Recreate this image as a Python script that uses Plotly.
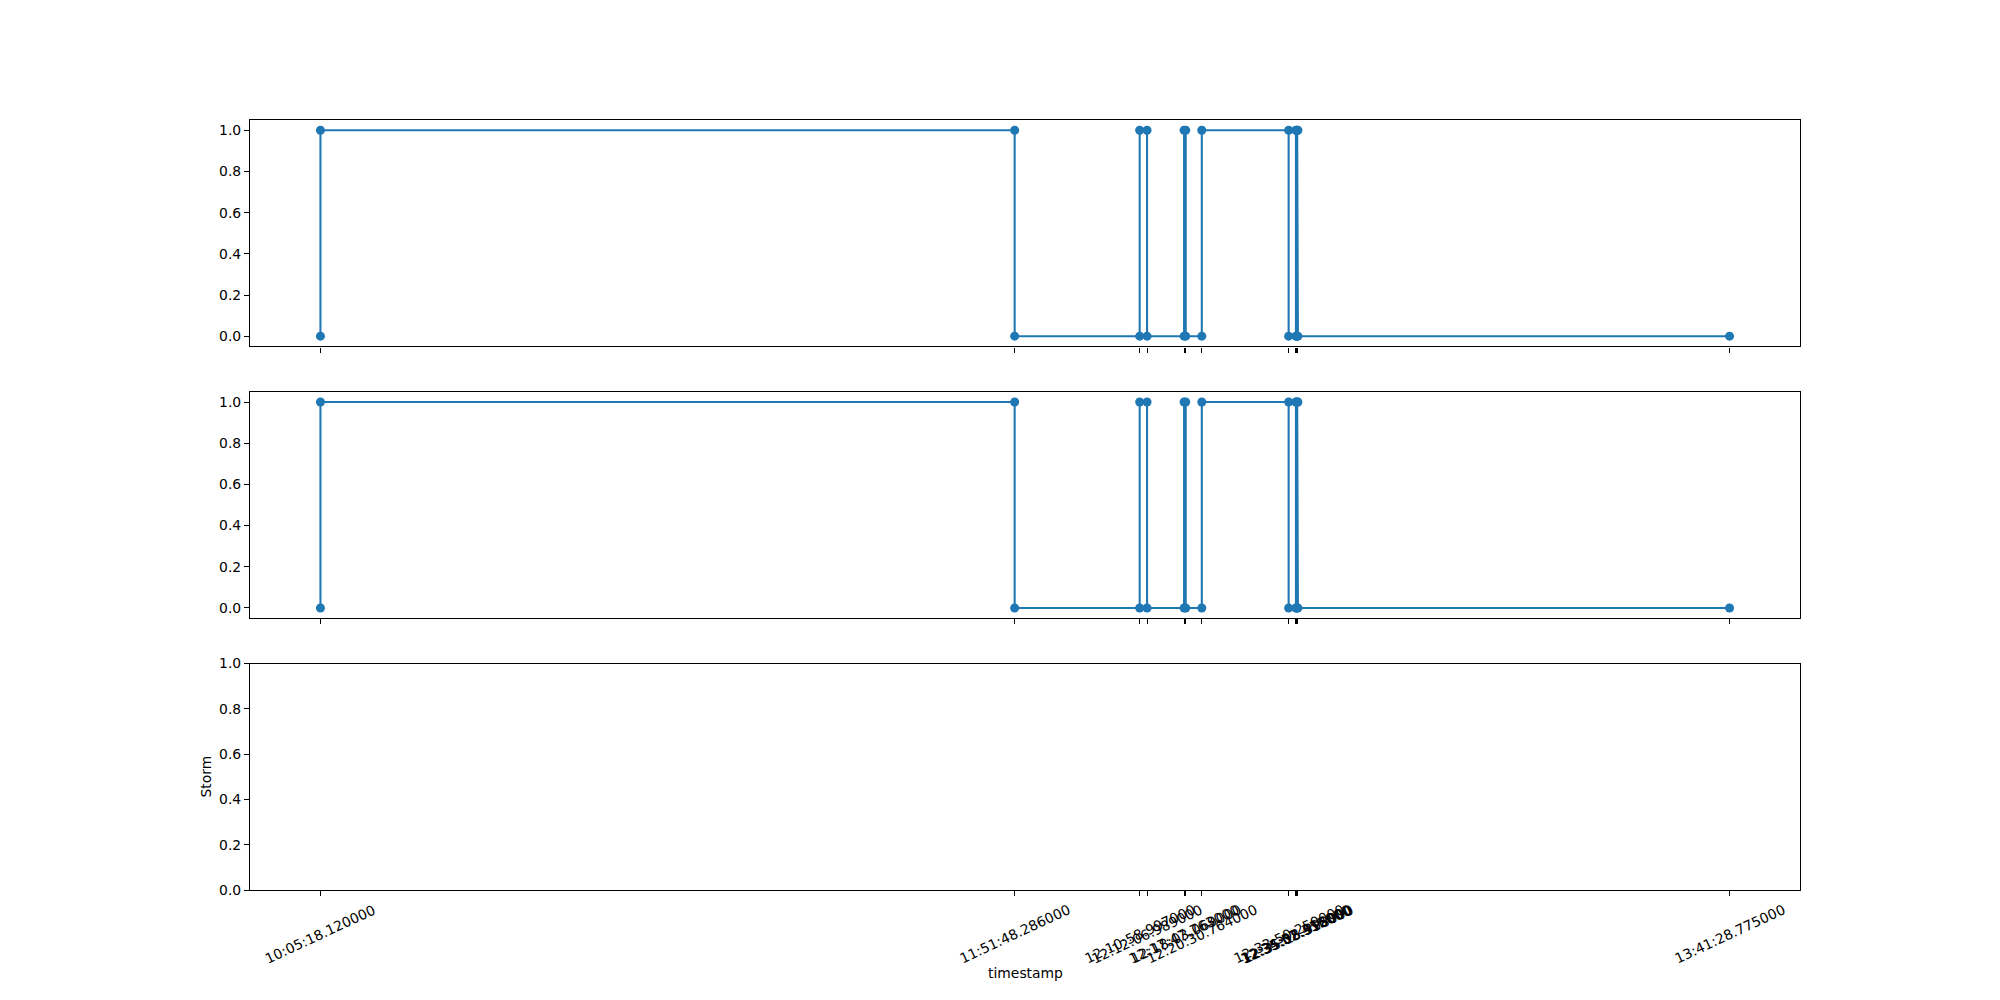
import plotly.graph_objects as go
import pandas as pd

# ---- data ----
event_times = [
    "10:05:18.120000", "11:51:48.286000", "12:10:58.997000", "12:12:06.989000",
    "12:17:47.763000", "12:18:03.069000", "12:20:30.764000", "12:33:50.259000",
    "12:34:57.412000", "12:35:02.356000", "12:35:08.915000", "12:35:15.598000",
    "13:41:28.775000",
]
# each event except the last has a value before and after the switch
top_levels = [0, 1, 1, 0, 0, 1, 1, 0, 0, 1, 1, 0, 0, 1, 1, 0, 0, 1, 1, 0, 0, 1, 1, 0, 0]
mid_levels = [0, 1, 1, 0, 0, 1, 1, 0, 0, 1, 1, 0, 0, 1, 1, 0, 0, 1, 1, 0, 0, 1, 1, 0, 0]
y_ticks = [0.0, 0.2, 0.4, 0.6, 0.8, 1.0]
y_tick_text = ["0.0", "0.2", "0.4", "0.6", "0.8", "1.0"]
y_label = "Storm"
x_label = "timestamp"

DAY = "2024-01-01 "
ts = pd.to_datetime([DAY + t for t in event_times])
fmt = lambda t: t.strftime("%Y-%m-%d %H:%M:%S.%f")
point_x = []
for i, t in enumerate(ts):
    point_x.append(fmt(t))
    if i < len(ts) - 1:
        point_x.append(fmt(t))

span = ts[-1] - ts[0]
x_range = [fmt(ts[0] - span * 0.05), fmt(ts[-1] + span * 0.05)]
tickvals = [fmt(t) for t in ts]

BLUE = "#1f77b4"
FONT = "DejaVu Sans"

fig = go.Figure()
for levels, xa, ya in [(top_levels, "x", "y"), (mid_levels, "x2", "y2")]:
    fig.add_trace(go.Scatter(
        x=point_x, y=levels, xaxis=xa, yaxis=ya, mode="lines+markers",
        line=dict(color=BLUE, width=2.08),
        marker=dict(color=BLUE, size=9, line=dict(width=0)),
        showlegend=False, hoverinfo="skip",
    ))

axis_common = dict(showline=True, mirror=True, linecolor="black", linewidth=1.1,
                   ticks="outside", ticklen=5, tickwidth=1.1, tickcolor="black",
                   showgrid=False, zeroline=False, automargin=False)

domains = [[0.65353, 0.88], [0.38176, 0.60824], [0.11, 0.33647]]
layout = dict(
    width=2000, height=1000, margin=dict(l=0, r=0, t=0, b=0, autoexpand=False),
    paper_bgcolor="white", plot_bgcolor="white", showlegend=False,
    font=dict(family=FONT, size=13.9, color="black"),
)
for i, dom in enumerate(domains, start=1):
    sx = "" if i == 1 else str(i)
    layout["xaxis" + sx] = dict(axis_common, domain=[0.125, 0.9], anchor="y" + sx,
                                type="date", range=x_range, tickvals=tickvals,
                                showticklabels=False)
    if i < 3:
        yr = [-0.05, 1.05]
    else:
        yr = [0, 1]
    layout["yaxis" + sx] = dict(axis_common, domain=dom, anchor="x" + sx, range=yr,
                                tickvals=y_ticks, ticktext=y_tick_text)
fig.update_layout(**layout)

annotations = []
for t, lab in zip(tickvals, event_times):
    annotations.append(dict(x=t, xref="x3", y=0.1015, yref="paper", text=lab,
                            textangle=-25, xanchor="center", yanchor="top",
                            showarrow=False, font=dict(family=FONT, size=13.9, color="black")))
annotations.append(dict(x=0.5125, xref="paper", y=0.027, yref="paper", text=x_label,
                        xanchor="center", yanchor="middle", showarrow=False,
                        font=dict(family=FONT, size=13.9, color="black")))
annotations.append(dict(x=0.1025, xref="paper", y=0.2235, yref="paper", text=y_label,
                        textangle=-90, xanchor="center", yanchor="middle", showarrow=False,
                        font=dict(family=FONT, size=13.9, color="black")))
fig.update_layout(annotations=annotations)

fig.write_html("out.html")
